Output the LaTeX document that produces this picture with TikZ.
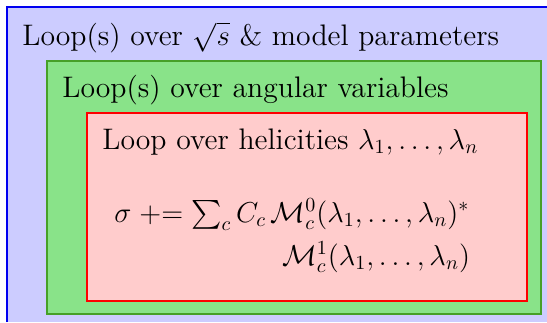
\documentclass[tikz,border=0pt]{standalone}
\usepackage{amsmath}
\definecolor{outerfill}{RGB}{204,204,255}
\definecolor{outerline}{RGB}{0,0,240}
\definecolor{midfill}{RGB}{137,227,137}
\definecolor{midline}{RGB}{70,160,40}
\definecolor{innerfill}{RGB}{255,204,204}
\definecolor{innerline}{RGB}{255,0,0}
\begin{document}
\begin{tikzpicture}[x=0.5pt,y=-0.5pt,
  lbl/.style={anchor=base west,inner sep=0pt,font=\fontsize{14.85}{18}\selectfont}]
\useasboundingbox (0,0) rectangle (547,322);
% outer box (cropped at right and bottom)
\fill[outerfill] (7,7) rectangle (547,322);
\draw[outerline,line width=0.6pt] (7,322) -- (7,7) -- (547,7);
% middle box
\draw[midline,fill=midfill,line width=0.8pt] (47,61) rectangle (541,314);
% inner box
\draw[innerline,fill=innerfill,line width=0.7pt] (87,113) rectangle (527,301);
% texts
\node[lbl] (t1) at (22,45) {Loop(s) over $\sqrt{s}$ \& model parameters};
\node[lbl] (t2) at (62,97) {Loop(s) over angular variables};
\node[lbl] (t3) at (102,149) {Loop over helicities $\lambda_1,\dots,\lambda_n$};
\node[lbl] (m1) at (114,222) {$\sigma \mathrel{+}= \sum_c C_c\,\mathcal{M}^0_c(\lambda_1,\dots,\lambda_n)^*$};
\node[lbl] (m2) at (282,265) {$\mathcal{M}^1_c(\lambda_1,\dots,\lambda_n)$};
\end{tikzpicture}
\end{document}
